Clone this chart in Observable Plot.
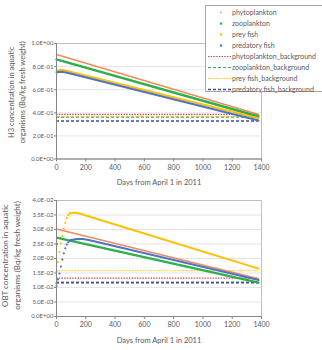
<!DOCTYPE html>
<html>
<head>
<meta charset="utf-8">
<script src="https://cdn.jsdelivr.net/npm/d3@7"></script>
<script src="https://cdn.jsdelivr.net/npm/@observablehq/plot@0.6"></script>
<style>
  html, body { margin: 0; padding: 0; background: #fff; }
  #page { position: relative; width: 322px; height: 350px; overflow: hidden; font-family: Lato, "Open Sans", sans-serif; }
  #page svg { display: block; }
  #legend { position: absolute; left: 205px; top: 5px; width: 120px; height: 87px; border: 1px solid #a6a6a6; background: #fff; padding-top: 1px; box-sizing: border-box; }
  .row { height: 11px; line-height: 11px; font-size: 7px; color: #595959; white-space: nowrap; display: flex; align-items: center; }
  .row svg { flex: none; margin-left: 1px; margin-right: 1px; }
</style>
</head>
<body>
<div id="page"><div id="legend"></div></div>
<script>
// Series names and x axis
const seriesNames = ["phytoplankton", "zooplankton", "prey fish", "predatory fish"];
const backgroundNames = seriesNames.map(n => n + "_background");
const xTicks = [0, 200, 400, 600, 800, 1000, 1200, 1400];
const xTickLabels = ["0", "200", "400", "600", "800", "1000", "1200", "1400"];
const xTitle = "Days from April 1 in 2011";
const bgDays = [0, 1380];

// H3 concentration, [day, Bq/kg]
const h3Phyto = [[0, 0.905], [1380, 0.386]];
const h3Zoo = [[0, 0.862], [1380, 0.368]];
const h3Prey = [[0, 0.765], [30, 0.772], [60, 0.766], [1380, 0.352]];
const h3Pred = [[0, 0.752], [40, 0.755], [80, 0.745], [1380, 0.333]];
const h3Background = [0.387, 0.362, 0.370, 0.328];
const h3YTicks = [0, 0.2, 0.4, 0.6, 0.8, 1.0];
const h3YTickLabels = ["0.0E+00", "2.0E-01", "4.0E-01", "6.0E-01", "8.0E-01", "1.0E+00"];
const h3YTitle = "H3 concentration in aquatic\norganisms (Bq/kg fresh weight)";

// OBT concentration, [day, Bq/kg]; early points are separate markers
const obtPhyto = [[0, 0.0302], [1380, 0.0130]];
const obtZooRise = [[0, 0.0105], [4, 0.0250]];
const obtZoo = [[8, 0.0271], [1380, 0.0117]];
const obtPreyRise = [[0, 0.0155], [10, 0.0188], [20, 0.0222], [30, 0.0252], [40, 0.0278], [50, 0.0302], [60, 0.0323], [70, 0.0339], [80, 0.0349], [90, 0.0355]];
const obtPrey = [[90, 0.0355], [110, 0.0358], [130, 0.0358], [160, 0.0355], [200, 0.0348], [1380, 0.0165]];
const obtPredRise = [[0, 0.0115], [10, 0.0128], [20, 0.0148], [30, 0.0172], [40, 0.0196], [50, 0.0218], [60, 0.0235], [70, 0.0248], [80, 0.0256], [90, 0.0261], [100, 0.0264]];
const obtPred = [[100, 0.0264], [140, 0.0267], [180, 0.0267], [220, 0.0264], [1380, 0.0126]];
const obtBackground = [0.0132, 0.0119, 0.0158, 0.0116];
const obtYTicks = [0, 0.005, 0.01, 0.015, 0.02, 0.025, 0.03, 0.035, 0.04];
const obtYTickLabels = ["0.0E+00", "5.0E-03", "1.0E-02", "1.5E-02", "2.0E-02", "2.5E-02", "3.0E-02", "3.5E-02", "4.0E-02"];
const obtYTitle = "OBT concentration in aquatic\norganisms (Bq/kg fresh weight)";

// Styles
const lineColor = {"phytoplankton": "#EF8B5C", "zooplankton": "#2EAF4A", "prey fish": "#FFC000", "predatory fish": "#4F74C4"};
const lineWidth = {"phytoplankton": 1.5, "zooplankton": 2.4, "prey fish": 2, "predatory fish": 2};
const bgColor = ["#D9485F", "#3FA36B", "#FFC000", "#3D4C9E"];
const bgDash = ["1.5,1.2", "3,2", "1.5,1.2", "3,2"];
const bgWidth = [1.2, 1.2, 1, 1.5];
const textGray = "#595959";

function panel({lines, rises, background, yTicks, yTickLabels, yTitle, yTitleDx, yTitleDy, yTitleSize, height, marginTop, marginBottom}) {
  const marks = [
    Plot.gridY(yTicks, {stroke: "#d9d9d9", strokeOpacity: 1, strokeWidth: 0.7}),
    Plot.frame({stroke: "#c0c0c0"}),
    ...background.map((v, i) => Plot.ruleY([v], {x1: bgDays[0], x2: bgDays[1], stroke: bgColor[i], strokeDasharray: bgDash[i], strokeWidth: bgWidth[i]})),
    ...lines.map(([name, pts]) => Plot.line(pts, {x: d => d[0], y: d => d[1], stroke: lineColor[name], strokeWidth: lineWidth[name]})),
    ...rises.map(([name, pts]) => Plot.dot(pts, {x: d => d[0], y: d => d[1], r: 1.1, fill: lineColor[name], stroke: null})),
    Plot.ruleX([0], {stroke: "#868686"}),
    Plot.ruleY([0], {stroke: "#868686"}),
    Plot.axisY({ticks: yTicks, tickFormat: d => yTickLabels[yTicks.indexOf(d)], tickSize: 2, tickPadding: 1, fontSize: 6, stroke: "#868686", fill: textGray}),
    Plot.axisX({ticks: xTicks, tickFormat: d => xTickLabels[xTicks.indexOf(d)], tickSize: 3, tickPadding: 3, fontSize: 7, stroke: "#868686", fill: textGray}),
    Plot.text([xTitle], {frameAnchor: "bottom", dy: 26, fontSize: 7.5, fill: textGray}),
    Plot.text([yTitle], {frameAnchor: "left", dx: yTitleDx, dy: yTitleDy, rotate: -90, fontSize: yTitleSize, lineHeight: 1.4, textAnchor: "middle", lineAnchor: "middle", fill: textGray})
  ];
  return Plot.plot({
    width: 322, height,
    marginLeft: 56, marginRight: 61, marginTop, marginBottom,
    style: {fontFamily: "Lato, 'Open Sans', sans-serif", color: textGray, background: "transparent"},
    x: {domain: [0, 1400], label: null, axis: null},
    y: {domain: [yTicks[0], yTicks[yTicks.length - 1]], label: null, axis: null},
    marks
  });
}

const page = document.getElementById("page");
const legend = document.getElementById("legend");

page.insertBefore(panel({
  lines: [["phytoplankton", h3Phyto], ["zooplankton", h3Zoo], ["prey fish", h3Prey], ["predatory fish", h3Pred]],
  rises: [],
  background: h3Background,
  yTicks: h3YTicks, yTickLabels: h3YTickLabels, yTitle: h3YTitle,
  yTitleDx: -40.5, yTitleDy: -9, yTitleSize: 7.5,
  height: 190, marginTop: 43, marginBottom: 31.5
}), legend);

page.insertBefore(panel({
  lines: [["phytoplankton", obtPhyto], ["zooplankton", obtZoo], ["prey fish", obtPrey], ["predatory fish", obtPred]],
  rises: [["zooplankton", obtZooRise], ["prey fish", obtPreyRise], ["predatory fish", obtPredRise]],
  background: obtBackground,
  yTicks: obtYTicks, yTickLabels: obtYTickLabels, yTitle: obtYTitle,
  yTitleDx: -46, yTitleDy: -3, yTitleSize: 8,
  height: 160, marginTop: 10, marginBottom: 34
}), legend);

// Legend: marker entries for the series, dashed entries for the backgrounds
const ns = "http://www.w3.org/2000/svg";
function swatch(draw) {
  const s = document.createElementNS(ns, "svg");
  s.setAttribute("width", 24); s.setAttribute("height", 11);
  draw(s);
  return s;
}
seriesNames.forEach(name => {
  const row = document.createElement("div"); row.className = "row";
  row.appendChild(swatch(s => {
    const r = document.createElementNS(ns, "rect");
    r.setAttribute("x", 13); r.setAttribute("y", 4.4); r.setAttribute("width", 2.2); r.setAttribute("height", 2.2);
    r.setAttribute("fill", name === "phytoplankton" ? "#F3BFA6" : lineColor[name]);
    s.appendChild(r);
  }));
  row.appendChild(document.createTextNode(name));
  legend.appendChild(row);
});
backgroundNames.forEach((name, i) => {
  const row = document.createElement("div"); row.className = "row";
  row.appendChild(swatch(s => {
    const l = document.createElementNS(ns, "line");
    l.setAttribute("x1", 1); l.setAttribute("x2", 24); l.setAttribute("y1", 5.5); l.setAttribute("y2", 5.5);
    l.setAttribute("stroke", bgColor[i]); l.setAttribute("stroke-dasharray", bgDash[i]); l.setAttribute("stroke-width", bgWidth[i]);
    s.appendChild(l);
  }));
  row.appendChild(document.createTextNode(name));
  legend.appendChild(row);
});
</script>
</body>
</html>
